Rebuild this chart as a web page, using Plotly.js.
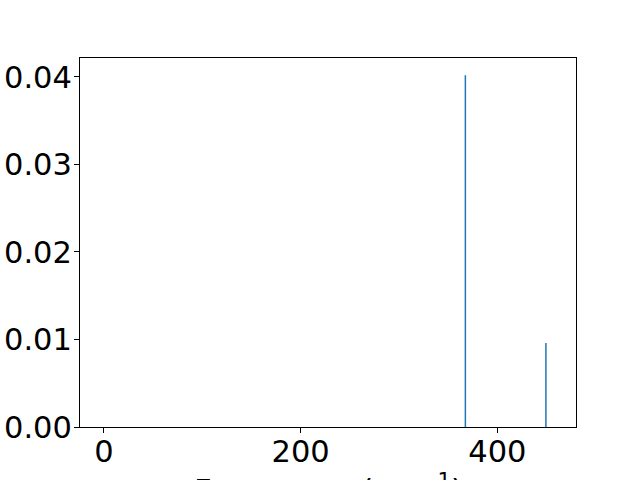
<!DOCTYPE html>
<html>
<head>
<meta charset="utf-8">
<script src="https://cdn.plot.ly/plotly-3.0.1.min.js"></script>
<style>html,body{margin:0;padding:0;background:#fff;}#chart{width:640px;height:480px;}</style>
</head>
<body>
<div id="chart"></div>
<script>
// Data
var frequencies = [367.5, 449.4];
var intensities = [0.0402, 0.0096];
var xTickVals = [0, 200, 400];
var yTickVals = [0.00, 0.01, 0.02, 0.03, 0.04];
var xTitle = 'Frequency (cm<sup>−1</sup>)';

var xs = [], ys = [];
for (var i = 0; i < frequencies.length; i++) {
  xs.push(frequencies[i], frequencies[i], null);
  ys.push(0, intensities[i], null);
}

var trace = {
  x: xs, y: ys, type: 'scatter', mode: 'lines',
  line: {color: '#1f77b4', width: 1.5},
  hoverinfo: 'skip', showlegend: false
};

var font = {family: 'DejaVu Sans', size: 30.5, color: '#000'};
var plotH = 480 - 58 - 53;
var layout = {
  width: 640, height: 480,
  paper_bgcolor: '#fff', plot_bgcolor: '#fff',
  margin: {l: 80, r: 64, t: 58, b: 53, pad: 0},
  font: font,
  showlegend: false,
  xaxis: {
    range: [-24.4, 480],
    tickvals: xTickVals, ticktext: xTickVals.map(String),
    ticks: 'outside', ticklen: 5, tickwidth: 1, tickcolor: '#000',
    ticklabelstandoff: -8,
    showline: true, linecolor: '#000', linewidth: 1, mirror: true,
    showgrid: false, zeroline: false,
    tickfont: font
  },
  yaxis: {
    range: [0, 0.04217],
    tickvals: yTickVals, ticktext: yTickVals.map(function(v){return v.toFixed(2);}),
    ticks: 'outside', ticklen: 5, tickwidth: 1, tickcolor: '#000',
    ticklabelstandoff: -4,
    showline: true, linecolor: '#000', linewidth: 1, mirror: true,
    showgrid: false, zeroline: false,
    tickfont: font
  },
  annotations: [{
    text: xTitle, xref: 'paper', yref: 'paper',
    x: 0.5, y: -(466 - 427) / plotH, xanchor: 'center', yanchor: 'top',
    showarrow: false, font: font
  }]
};

Plotly.newPlot('chart', [trace], layout, {staticPlot: true, displayModeBar: false});
</script>
</body>
</html>
